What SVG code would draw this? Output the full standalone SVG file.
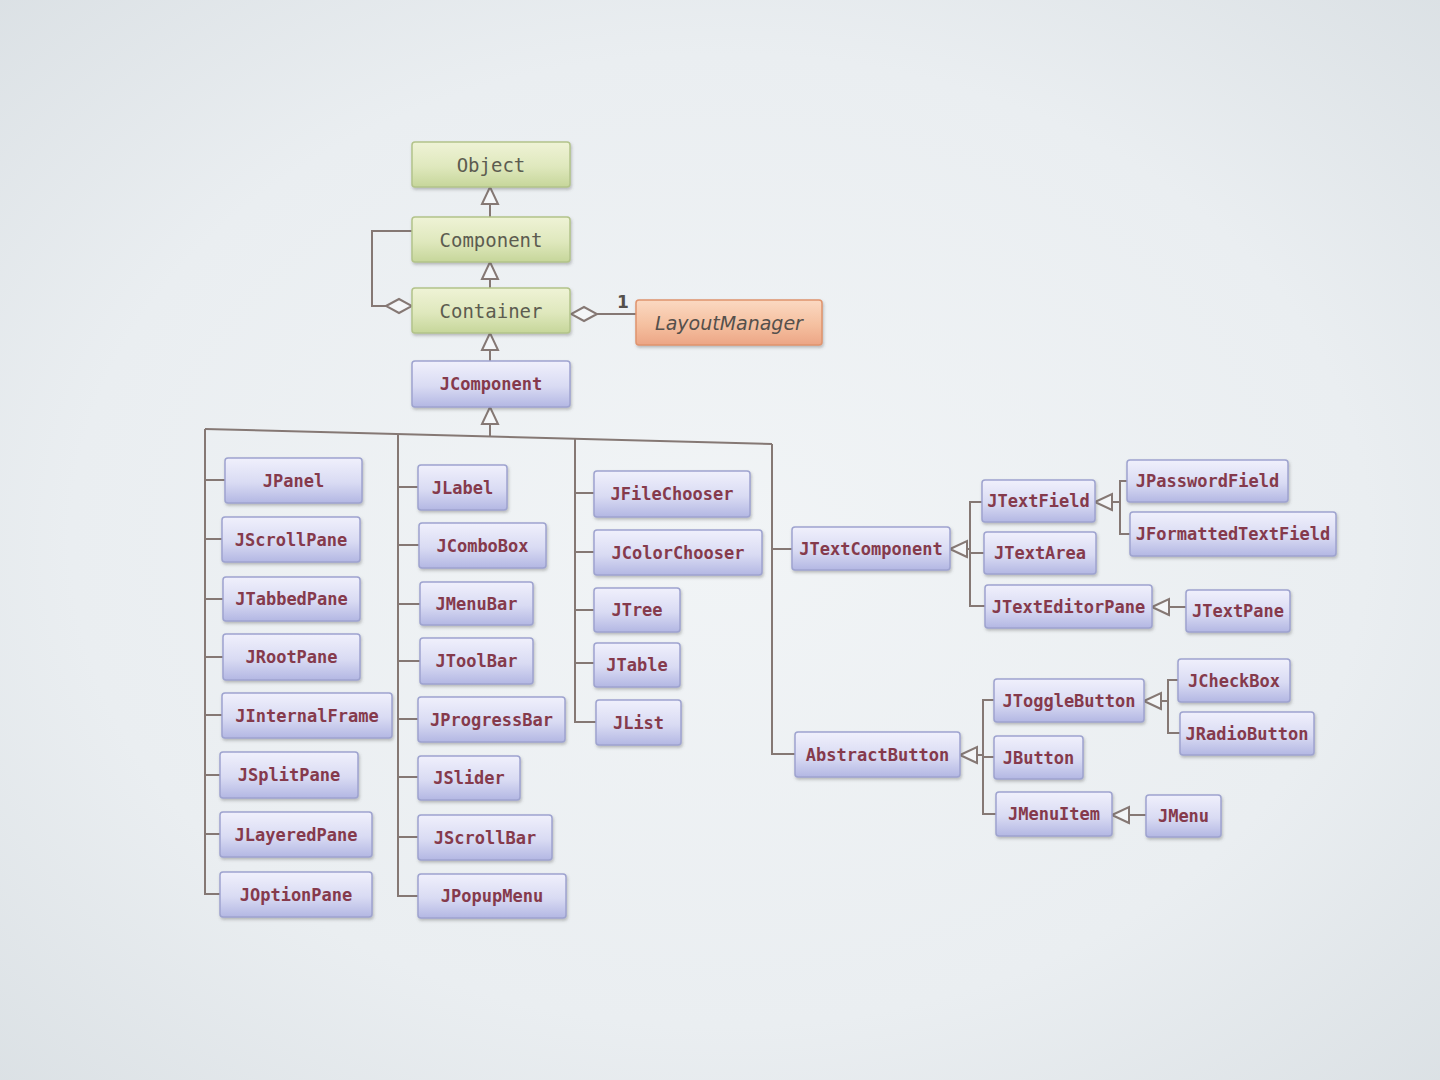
<svg xmlns="http://www.w3.org/2000/svg" width="1440" height="1080" viewBox="0 0 1440 1080">
<defs>
<radialGradient id="bg" cx="0.5" cy="0.5" r="0.75">
<stop offset="0" stop-color="#f1f4f6"/>
<stop offset="0.6" stop-color="#eaeef1"/>
<stop offset="1" stop-color="#d9dfe3"/>
</radialGradient>
<linearGradient id="gBlue" x1="0" y1="0" x2="0" y2="1">
<stop offset="0" stop-color="#f0f0fc"/>
<stop offset="0.55" stop-color="#d9dbf3"/>
<stop offset="1" stop-color="#b3b7e3"/>
</linearGradient>
<linearGradient id="gGreen" x1="0" y1="0" x2="0" y2="1">
<stop offset="0" stop-color="#eff3d6"/>
<stop offset="0.55" stop-color="#dfe8bd"/>
<stop offset="1" stop-color="#c6d69a"/>
</linearGradient>
<linearGradient id="gOrange" x1="0" y1="0" x2="0" y2="1">
<stop offset="0" stop-color="#fbd9c2"/>
<stop offset="0.55" stop-color="#f5c0a0"/>
<stop offset="1" stop-color="#eca585"/>
</linearGradient>
<filter id="sh" x="-10%" y="-20%" width="120%" height="150%">
<feDropShadow dx="1" dy="2" stdDeviation="1.5" flood-color="#555" flood-opacity="0.35"/>
</filter>
<marker id="tri" markerUnits="userSpaceOnUse" markerWidth="20" markerHeight="20" viewBox="0 0 20 20" refX="19" refY="10" orient="auto">
<path d="M2,2 L19,10 L2,18 Z" fill="#f4f6f8" stroke="#857874" stroke-width="2"/>
</marker>
<marker id="dia" markerUnits="userSpaceOnUse" markerWidth="28" markerHeight="18" viewBox="0 0 28 18" refX="27" refY="9" orient="auto">
<path d="M1,9 L14,2 L27,9 L14,16 Z" fill="#f4f6f8" stroke="#857874" stroke-width="2"/>
</marker>
<style>
.conn line, .conn path, .conn polyline { stroke:#857874; stroke-width:2; fill:none; }
.gen { marker-end:url(#tri); }
.agg { marker-end:url(#dia); }
.blue rect { fill:url(#gBlue); stroke:#9ea3cf; stroke-width:1.5; filter:url(#sh); }
.green rect { fill:url(#gGreen); stroke:#b3c38a; stroke-width:1.5; filter:url(#sh); }
.orange rect { fill:url(#gOrange); stroke:#e0946e; stroke-width:1.5; filter:url(#sh); }
.blue text { font-family:"DejaVu Sans Mono","Liberation Mono",monospace; font-weight:bold; font-size:17px; fill:#853a4c; text-anchor:middle; dominant-baseline:central; }
.green text { font-family:"DejaVu Sans Mono","Liberation Mono",monospace; font-size:19px; fill:#5c5c50; text-anchor:middle; dominant-baseline:central; }
.orange text { font-family:"DejaVu Sans","Liberation Sans",sans-serif; font-style:italic; font-size:19px; fill:#55504c; text-anchor:middle; dominant-baseline:central; }
.mult { font-family:"DejaVu Sans","Liberation Sans",sans-serif; font-weight:bold; font-size:17px; fill:#55504c; }
</style>
</defs>
<rect x="0" y="0" width="1440" height="1080" fill="url(#bg)"/>

<g id="connectors" class="conn">
<line class="gen" x1="490" y1="217" x2="490" y2="187"/>
<line class="gen" x1="490" y1="288" x2="490" y2="262"/>
<line class="gen" x1="490" y1="361" x2="490" y2="333"/>
<path class="agg" d="M412,231 H372 V306 H412"/>
<line class="agg" x1="636" y1="314" x2="571" y2="314"/>
<text class="mult" x="617" y="308">1</text>
<line class="gen" x1="490" y1="436" x2="490" y2="407"/>
<line x1="205" y1="429" x2="772" y2="444"/>
<polyline points="205,429 205,894 220,894"/>
<line x1="205" y1="480" x2="225" y2="480"/>
<line x1="205" y1="539" x2="222" y2="539"/>
<line x1="205" y1="599" x2="223" y2="599"/>
<line x1="205" y1="657" x2="223" y2="657"/>
<line x1="205" y1="715" x2="222" y2="715"/>
<line x1="205" y1="775" x2="220" y2="775"/>
<line x1="205" y1="834" x2="220" y2="834"/>
<polyline points="398,434 398,896 418,896"/>
<line x1="398" y1="487" x2="418" y2="487"/>
<line x1="398" y1="545" x2="419" y2="545"/>
<line x1="398" y1="604" x2="420" y2="604"/>
<line x1="398" y1="661" x2="420" y2="661"/>
<line x1="398" y1="719" x2="418" y2="719"/>
<line x1="398" y1="777" x2="418" y2="777"/>
<line x1="398" y1="837" x2="418" y2="837"/>
<polyline points="575,439 575,722 596,722"/>
<line x1="575" y1="493" x2="594" y2="493"/>
<line x1="575" y1="552" x2="594" y2="552"/>
<line x1="575" y1="610" x2="594" y2="610"/>
<line x1="575" y1="663" x2="594" y2="663"/>
<polyline points="772,444 772,754 795,754"/>
<line x1="772" y1="549" x2="792" y2="549"/>
<line class="gen" x1="970" y1="549" x2="950" y2="549"/>
<polyline points="982,502 970,502 970,606 985,606"/>
<line x1="970" y1="553" x2="984" y2="553"/>
<line class="gen" x1="1120" y1="502" x2="1095" y2="502"/>
<polyline points="1127,481 1120,481 1120,534 1130,534"/>
<line class="gen" x1="1186" y1="607" x2="1152" y2="607"/>
<line class="gen" x1="983" y1="755" x2="960" y2="755"/>
<polyline points="994,700 983,700 983,814 996,814"/>
<line x1="983" y1="757" x2="994" y2="757"/>
<line class="gen" x1="1168" y1="701" x2="1144" y2="701"/>
<polyline points="1178,680 1168,680 1168,733 1180,733"/>
<line class="gen" x1="1146" y1="815" x2="1112" y2="815"/>
</g>

<g id="Object" class="green"><rect x="412" y="142" width="158" height="45" rx="3"/><text x="491" y="164.5">Object</text></g>
<g id="Component" class="green"><rect x="412" y="217" width="158" height="45" rx="3"/><text x="491" y="239.5">Component</text></g>
<g id="Container" class="green"><rect x="412" y="288" width="158" height="45" rx="3"/><text x="491" y="310.5">Container</text></g>
<g id="LayoutManager" class="orange"><rect x="636" y="300" width="186" height="45" rx="3"/><text x="729" y="322.5">LayoutManager</text></g>
<g id="JComponent" class="blue"><rect x="412" y="361" width="158" height="46" rx="3"/><text x="491" y="384">JComponent</text></g>

<g id="JPanel" class="blue"><rect x="225" y="458" width="137" height="45" rx="3"/><text x="293.5" y="480.5">JPanel</text></g>
<g id="JScrollPane" class="blue"><rect x="222" y="517" width="138" height="45" rx="3"/><text x="291" y="539.5">JScrollPane</text></g>
<g id="JTabbedPane" class="blue"><rect x="223" y="577" width="137" height="44" rx="3"/><text x="291.5" y="599">JTabbedPane</text></g>
<g id="JRootPane" class="blue"><rect x="223" y="634" width="137" height="46" rx="3"/><text x="291.5" y="657">JRootPane</text></g>
<g id="JInternalFrame" class="blue"><rect x="222" y="693" width="170" height="45" rx="3"/><text x="307" y="715.5">JInternalFrame</text></g>
<g id="JSplitPane" class="blue"><rect x="220" y="752" width="138" height="46" rx="3"/><text x="289" y="775">JSplitPane</text></g>
<g id="JLayeredPane" class="blue"><rect x="220" y="812" width="152" height="45" rx="3"/><text x="296" y="834.5">JLayeredPane</text></g>
<g id="JOptionPane" class="blue"><rect x="220" y="872" width="152" height="45" rx="3"/><text x="296" y="894.5">JOptionPane</text></g>

<g id="JLabel" class="blue"><rect x="418" y="465" width="89" height="45" rx="3"/><text x="462.5" y="487.5">JLabel</text></g>
<g id="JComboBox" class="blue"><rect x="419" y="523" width="127" height="45" rx="3"/><text x="482.5" y="545.5">JComboBox</text></g>
<g id="JMenuBar" class="blue"><rect x="420" y="582" width="113" height="43" rx="3"/><text x="476.5" y="603.5">JMenuBar</text></g>
<g id="JToolBar" class="blue"><rect x="420" y="638" width="113" height="46" rx="3"/><text x="476.5" y="661">JToolBar</text></g>
<g id="JProgressBar" class="blue"><rect x="418" y="697" width="147" height="45" rx="3"/><text x="491.5" y="719.5">JProgressBar</text></g>
<g id="JSlider" class="blue"><rect x="418" y="756" width="102" height="44" rx="3"/><text x="469" y="778">JSlider</text></g>
<g id="JScrollBar" class="blue"><rect x="418" y="815" width="134" height="45" rx="3"/><text x="485" y="837.5">JScrollBar</text></g>
<g id="JPopupMenu" class="blue"><rect x="418" y="874" width="148" height="44" rx="3"/><text x="492" y="896">JPopupMenu</text></g>

<g id="JFileChooser" class="blue"><rect x="594" y="471" width="156" height="46" rx="3"/><text x="672" y="494">JFileChooser</text></g>
<g id="JColorChooser" class="blue"><rect x="594" y="530" width="168" height="45" rx="3"/><text x="678" y="552.5">JColorChooser</text></g>
<g id="JTree" class="blue"><rect x="594" y="588" width="86" height="44" rx="3"/><text x="637" y="610">JTree</text></g>
<g id="JTable" class="blue"><rect x="594" y="643" width="86" height="44" rx="3"/><text x="637" y="665">JTable</text></g>
<g id="JList" class="blue"><rect x="596" y="700" width="85" height="45" rx="3"/><text x="638.5" y="722.5">JList</text></g>

<g id="JTextComponent" class="blue"><rect x="792" y="527" width="158" height="43" rx="3"/><text x="871" y="548.5">JTextComponent</text></g>
<g id="AbstractButton" class="blue"><rect x="795" y="732" width="165" height="45" rx="3"/><text x="877.5" y="754.5">AbstractButton</text></g>

<g id="JTextField" class="blue"><rect x="982" y="480" width="113" height="42" rx="3"/><text x="1038.5" y="501">JTextField</text></g>
<g id="JTextArea" class="blue"><rect x="984" y="532" width="112" height="42" rx="3"/><text x="1040" y="553">JTextArea</text></g>
<g id="JTextEditorPane" class="blue"><rect x="985" y="585" width="167" height="43" rx="3"/><text x="1068.5" y="606.5">JTextEditorPane</text></g>
<g id="JPasswordField" class="blue"><rect x="1127" y="460" width="161" height="42" rx="3"/><text x="1207.5" y="481">JPasswordField</text></g>
<g id="JFormattedTextField" class="blue"><rect x="1130" y="512" width="206" height="44" rx="3"/><text x="1233" y="534">JFormattedTextField</text></g>
<g id="JTextPane" class="blue"><rect x="1186" y="590" width="104" height="42" rx="3"/><text x="1238" y="611">JTextPane</text></g>

<g id="JToggleButton" class="blue"><rect x="994" y="679" width="150" height="43" rx="3"/><text x="1069" y="700.5">JToggleButton</text></g>
<g id="JButton" class="blue"><rect x="994" y="736" width="89" height="43" rx="3"/><text x="1038.5" y="757.5">JButton</text></g>
<g id="JMenuItem" class="blue"><rect x="996" y="792" width="116" height="44" rx="3"/><text x="1054" y="814">JMenuItem</text></g>
<g id="JMenu" class="blue"><rect x="1146" y="795" width="75" height="42" rx="3"/><text x="1183.5" y="816">JMenu</text></g>
<g id="JCheckBox" class="blue"><rect x="1178" y="659" width="112" height="43" rx="3"/><text x="1234" y="680.5">JCheckBox</text></g>
<g id="JRadioButton" class="blue"><rect x="1180" y="712" width="134" height="43" rx="3"/><text x="1247" y="733.5">JRadioButton</text></g>
</svg>
